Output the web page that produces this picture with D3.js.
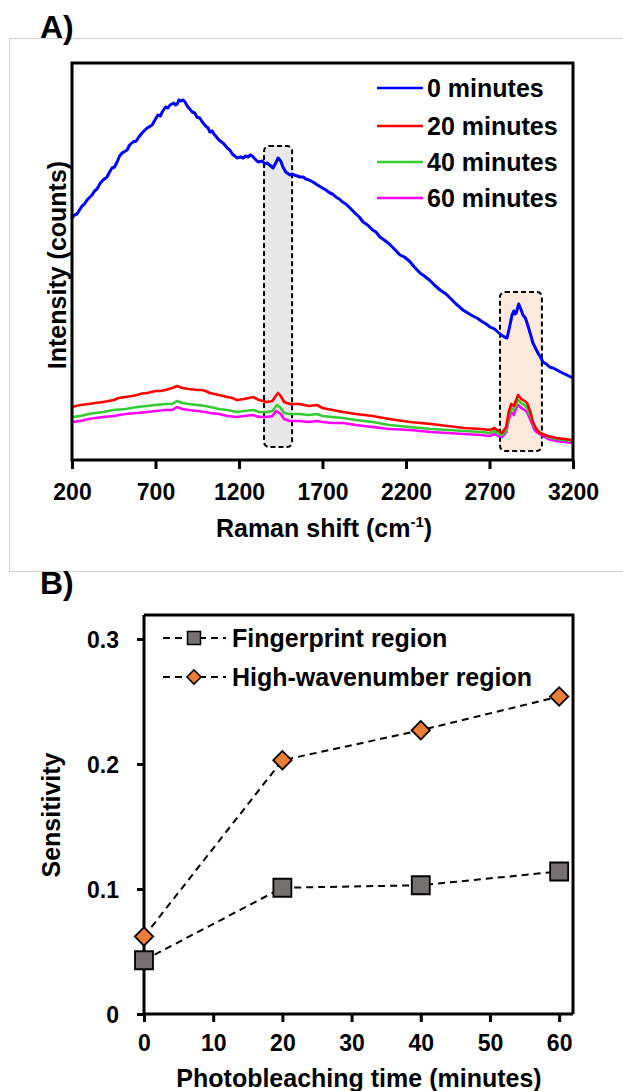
<!DOCTYPE html>
<html>
<head>
<meta charset="utf-8">
<script src="https://cdn.jsdelivr.net/npm/d3@7"></script>
<style>
  body { margin: 0; background: #fff; }
  text { font-family: Arial, "Liberation Sans", sans-serif; font-weight: bold; fill: #000; }
</style>
</head>
<body>
<svg id="my-svg"></svg>
<script>
/*
two panels: A) raman spectra after photobleaching, B) sensitivity vs time
*/

// ---- panel A data (Raman shift cm-1, counts) ----
let spec0 = [[200,2420],[215,2450],[230,2460],[260,2540],[275,2560],[290,2600],[320,2650],[335,2690],[350,2710],[370,2770],[386,2800],[410,2830],[425,2880],[440,2920],[455,2930],[470,2980],[485,3040],[500,3070],[530,3100],[545,3150],[565,3180],[585,3190],[600,3230],[625,3280],[650,3320],[680,3350],[700,3410],[715,3450],[730,3440],[740,3480],[760,3530],[775,3520],[787,3550],[810,3570],[820,3550],[830,3560],[840,3600],[850,3590],[865,3600],[877,3580],[890,3540],[900,3520],[920,3480],[935,3470],[948,3430],[965,3420],[980,3380],[1000,3340],[1015,3320],[1026,3280],[1040,3290],[1050,3260],[1080,3200],[1104,3170],[1115,3150],[1130,3120],[1145,3100],[1160,3060],[1175,3040],[1188,3020],[1210,3030],[1225,3020],[1240,3040],[1255,3030],[1266,3050],[1280,3040],[1290,3020],[1314,2980],[1340,2990],[1355,2960],[1368,2970],[1390,2940],[1404,2920],[1420,2970],[1434,3020],[1450,2990],[1463,2930],[1480,2880],[1505,2850],[1520,2860],[1530,2850],[1550,2840],[1565,2830],[1585,2830],[1600,2810],[1620,2800],[1643,2780],[1670,2750],[1700,2720],[1720,2700],[1745,2670],[1760,2660],[1780,2630],[1800,2610],[1820,2580],[1840,2560],[1865,2520],[1900,2460],[1920,2430],[1943,2380],[1970,2350],[2000,2300],[2020,2280],[2044,2230],[2070,2200],[2100,2160],[2130,2110],[2164,2050],[2190,2030],[2220,1990],[2250,1930],[2284,1870],[2310,1840],[2340,1800],[2370,1750],[2404,1700],[2440,1660],[2470,1610],[2500,1560],[2541,1500],[2570,1470],[2600,1440],[2625,1420],[2650,1390],[2680,1360],[2703,1330],[2730,1310],[2750,1280],[2770,1250],[2790,1230],[2805,1220],[2820,1330],[2835,1450],[2845,1490],[2852,1460],[2860,1470],[2875,1560],[2890,1500],[2900,1450],[2915,1420],[2925,1370],[2945,1260],[2960,1170],[2975,1120],[2990,1070],[3005,1030],[3020,980],[3040,960],[3060,930],[3080,920],[3104,900],[3125,880],[3150,860],[3175,840],[3200,820]];
let spec20 = [[200,530],[250,550],[300,560],[340,570],[386,580],[450,600],[480,620],[520,630],[560,640],[589,650],[620,665],[650,670],[700,690],[730,690],[760,700],[800,720],[829,740],[860,720],[900,710],[950,700],[980,700],[1000,690],[1026,670],[1080,650],[1130,630],[1160,620],[1188,600],[1230,610],[1260,620],[1284,630],[1320,600],[1368,580],[1400,590],[1420,640],[1434,670],[1450,640],[1470,580],[1505,560],[1560,560],[1620,540],[1667,550],[1700,520],[1760,500],[1823,480],[1900,460],[2000,440],[2100,410],[2224,380],[2350,360],[2450,340],[2550,320],[2650,310],[2703,300],[2730,320],[2755,290],[2775,270],[2800,330],[2815,480],[2830,560],[2845,540],[2860,600],[2871,650],[2890,610],[2910,590],[2925,570],[2945,480],[2960,380],[2980,310],[3002,270],[3050,240],[3100,220],[3150,210],[3200,200]];
let spec40 = [[200,430],[250,440],[300,460],[340,470],[386,480],[450,500],[520,510],[589,530],[650,540],[700,550],[760,560],[800,560],[829,590],[860,570],[900,560],[950,550],[1000,540],[1026,530],[1080,510],[1130,500],[1188,480],[1230,490],[1284,500],[1320,480],[1368,480],[1400,490],[1428,550],[1450,520],[1470,470],[1505,460],[1560,460],[1620,450],[1667,460],[1700,440],[1760,430],[1823,420],[1900,400],[2000,380],[2100,350],[2224,330],[2350,310],[2450,300],[2550,290],[2650,280],[2703,270],[2730,290],[2755,260],[2775,250],[2800,300],[2815,440],[2830,520],[2845,500],[2860,560],[2871,600],[2890,570],[2910,550],[2925,520],[2945,440],[2970,330],[2990,290],[3050,230],[3100,210],[3150,200],[3200,190]];
let spec60 = [[200,380],[250,390],[300,410],[340,420],[386,430],[450,440],[520,460],[589,470],[650,480],[700,490],[760,500],[800,500],[829,530],[860,510],[900,500],[950,490],[1000,480],[1026,470],[1080,460],[1130,440],[1188,430],[1230,440],[1284,450],[1320,430],[1368,430],[1400,440],[1422,490],[1450,460],[1470,410],[1505,390],[1560,390],[1620,380],[1667,390],[1700,380],[1760,370],[1823,370],[1900,350],[2000,330],[2100,310],[2224,300],[2350,280],[2450,270],[2550,260],[2650,250],[2703,240],[2730,260],[2755,240],[2775,230],[2800,280],[2815,400],[2830,480],[2845,450],[2860,520],[2871,550],[2890,520],[2910,500],[2925,480],[2945,400],[2970,300],[2990,270],[3050,210],[3100,190],[3150,180],[3200,170]];
let specNames = ['0 minutes', '20 minutes', '40 minutes', '60 minutes'];
let specColors = ['#0000ff', '#ff0000', '#33cc33', '#ff00ff'];
let ramanTicks = [200, 700, 1200, 1700, 2200, 2700, 3200];
// highlighted regions [from, to, bottom, top]
let fingerprintBox = [1350, 1518, 130, 3140];
let highWaveBox = [2763, 3014, 90, 1680];

// ---- panel B data ----
let times = [0, 20, 40, 60];
let fingerprintSens = [0.043, 0.101, 0.103, 0.114];
let highWaveSens = [0.062, 0.203, 0.227, 0.254];
let timeTicks = [0, 10, 20, 30, 40, 50, 60];
let sensTicks = [0, 0.1, 0.2, 0.3];

let oSvg = d3.select("#my-svg")
      .attr('height', '1091')
      .attr('width', '623');

// panel A outline
oSvg.append('rect')
    .attr('x', 9.5).attr('y', 38.5)
    .attr('width', 700).attr('height', 533)
    .attr('fill', 'none').attr('stroke', '#d0d0d0').attr('stroke-width', 1);

oSvg.append('text').attr('x', 40).attr('y', 38).attr('font-size', 32).text('A)');
oSvg.append('text').attr('x', 40).attr('y', 594).attr('font-size', 32).text('B)');

// ================= panel A =================
let xA = d3.scaleLinear().domain([200, 3200]).range([72, 573]);
let yA = d3.scaleLinear().domain([0, 3970]).range([460, 63]);

// boxes
[[fingerprintBox, '#e8e8e8'], [highWaveBox, '#fbe9dc']].forEach(b => {
    let d = b[0];
    oSvg.append('rect')
        .attr('x', xA(d[0])).attr('y', yA(d[3]))
        .attr('width', xA(d[1]) - xA(d[0]))
        .attr('height', yA(d[2]) - yA(d[3]))
        .attr('rx', 5)
        .attr('fill', b[1])
        .attr('stroke', '#000')
        .attr('stroke-width', 2)
        .attr('stroke-dasharray', '5,3');
});

let lineA = d3.line().x(d => xA(d[0])).y(d => yA(d[1]));
let specs = [spec60, spec40, spec20, spec0];
let specCols = [specColors[3], specColors[2], specColors[1], specColors[0]];
oSvg.selectAll('path.spec')
    .data(specs)
    .enter().append('path')
        .attr('class', 'spec')
        .attr('d', d => lineA(d))
        .attr('fill', 'none')
        .attr('stroke', (d, i) => specCols[i])
        .attr('stroke-width', (d, i) => i == 3 ? 3 : 2.6)
        .attr('stroke-linejoin', 'round');

// frame A
oSvg.append('rect')
    .attr('x', 72).attr('y', 63)
    .attr('width', 501).attr('height', 397)
    .attr('fill', 'none').attr('stroke', '#000').attr('stroke-width', 3);

let axA = oSvg.append('g')
    .attr('transform', 'translate(0,460)')
    .call(d3.axisBottom(xA).tickValues(ramanTicks).tickSize(9).tickSizeOuter(0).tickFormat(d3.format('d')));
axA.select('.domain').remove();
axA.selectAll('line').attr('stroke', '#000').attr('stroke-width', 3);
axA.selectAll('text')
    .attr('y', 40).attr('dy', null)
    .attr('font-size', 23)
    .attr('font-family', 'Arial, "Liberation Sans", sans-serif')
    .attr('font-weight', 'bold')
    .attr('fill', '#000');

let titleA = oSvg.append('text')
    .attr('x', 324).attr('y', 537)
    .attr('text-anchor', 'middle')
    .attr('font-size', 25);
titleA.append('tspan').text('Raman shift (cm');
titleA.append('tspan').attr('font-size', 15).attr('dy', -10).text('-1');
titleA.append('tspan').attr('dy', 10).text(')');

oSvg.append('text')
    .attr('transform', 'translate(66,265) rotate(-90)')
    .attr('text-anchor', 'middle')
    .attr('font-size', 25)
    .text('Intensity (counts)');

// legend A
let legA = oSvg.selectAll('g.legA')
    .data(specNames)
    .enter().append('g')
        .attr('class', 'legA')
        .attr('transform', (d, i) => 'translate(0,' + [88, 126, 162, 198][i] + ')');
legA.append('line')
    .attr('x1', 377).attr('x2', 423)
    .attr('stroke', (d, i) => specColors[i])
    .attr('stroke-width', 2.5);
legA.append('text')
    .attr('x', 427).attr('dy', '0.35em')
    .attr('font-size', 25)
    .text(d => d);

// ================= panel B =================
let xB = d3.scaleLinear().domain([0, 62]).range([144, 573]);
let yB = d3.scaleLinear().domain([0, 0.32]).range([1014, 614]);

let lineB = d3.line().x((d, i) => xB(times[i])).y(d => yB(d));
[fingerprintSens, highWaveSens].forEach(s => {
    oSvg.append('path')
        .attr('d', lineB(s))
        .attr('fill', 'none')
        .attr('stroke', '#000')
        .attr('stroke-width', 2)
        .attr('stroke-dasharray', '7,5');
});

// frame B (top and right)
oSvg.append('path')
    .attr('d', 'M144,615H573V1014')
    .attr('fill', 'none').attr('stroke', '#000').attr('stroke-width', 3);

let axBx = oSvg.append('g')
    .attr('transform', 'translate(0,1014)')
    .call(d3.axisBottom(xB).tickValues(timeTicks).tickSize(8).tickSizeOuter(0));
axBx.select('.domain').attr('d', 'M144,0H573').attr('stroke', '#000').attr('stroke-width', 3);
let axBy = oSvg.append('g')
    .attr('transform', 'translate(144,0)')
    .call(d3.axisLeft(yB).tickValues(sensTicks).tickSize(7).tickSizeOuter(0).tickFormat(d => d == 0 ? '0' : d3.format('.1f')(d)));
axBy.select('.domain').attr('d', 'M0,1014V615').attr('stroke', '#000').attr('stroke-width', 3);
[axBx, axBy].forEach(a => {
    a.selectAll('line').attr('stroke', '#000').attr('stroke-width', 3);
    a.selectAll('text')
        .attr('font-size', 23)
        .attr('font-family', 'Arial, "Liberation Sans", sans-serif')
        .attr('font-weight', 'bold')
        .attr('fill', '#000');
});
axBx.selectAll('text').attr('y', 37).attr('dy', null);
axBy.selectAll('text').attr('x', -25).attr('dy', '0.35em');

oSvg.append('text')
    .attr('x', 359).attr('y', 1087)
    .attr('text-anchor', 'middle')
    .attr('font-size', 25)
    .text('Photobleaching time (minutes)');
oSvg.append('text')
    .attr('transform', 'translate(60,815) rotate(-90)')
    .attr('text-anchor', 'middle')
    .attr('font-size', 25)
    .text('Sensitivity');

let squareSym = d3.symbol().type(d3.symbolSquare);
function drawMarkers(vals, kind, fill) {
    oSvg.selectAll('path.' + kind)
        .data(vals)
        .enter().append('path')
            .attr('class', kind)
            .attr('d', kind == 'sq' ? squareSym.size(18 * 18)() : squareSym.size(13 * 13)())
            .attr('transform', (d, i) => 'translate(' + xB(times[i]) + ',' + yB(d) + ')' + (kind == 'dm' ? ' rotate(45)' : ''))
            .attr('fill', fill)
            .attr('stroke', '#000')
            .attr('stroke-width', 1.8);
}
drawMarkers(fingerprintSens, 'sq', '#767171');
drawMarkers(highWaveSens, 'dm', '#ed7d31');

// legend B
let legB = [['Fingerprint region', 'sq', '#767171', 638], ['High-wavenumber region', 'dm', '#ed7d31', 677]];
legB.forEach(l => {
    let g = oSvg.append('g').attr('transform', 'translate(0,' + l[3] + ')');
    g.append('line')
        .attr('x1', 163).attr('x2', 226)
        .attr('stroke', '#000').attr('stroke-width', 2)
        .attr('stroke-dasharray', '7,5');
    g.append('path')
        .attr('d', l[1] == 'sq' ? squareSym.size(13 * 13)() : squareSym.size(10 * 10)())
        .attr('transform', 'translate(194,0)' + (l[1] == 'dm' ? ' rotate(45)' : ''))
        .attr('fill', l[2]).attr('stroke', '#000').attr('stroke-width', 1.5);
    g.append('text')
        .attr('x', 232).attr('dy', '0.35em')
        .attr('font-size', 25)
        .text(l[0]);
});
</script>
</body>
</html>
